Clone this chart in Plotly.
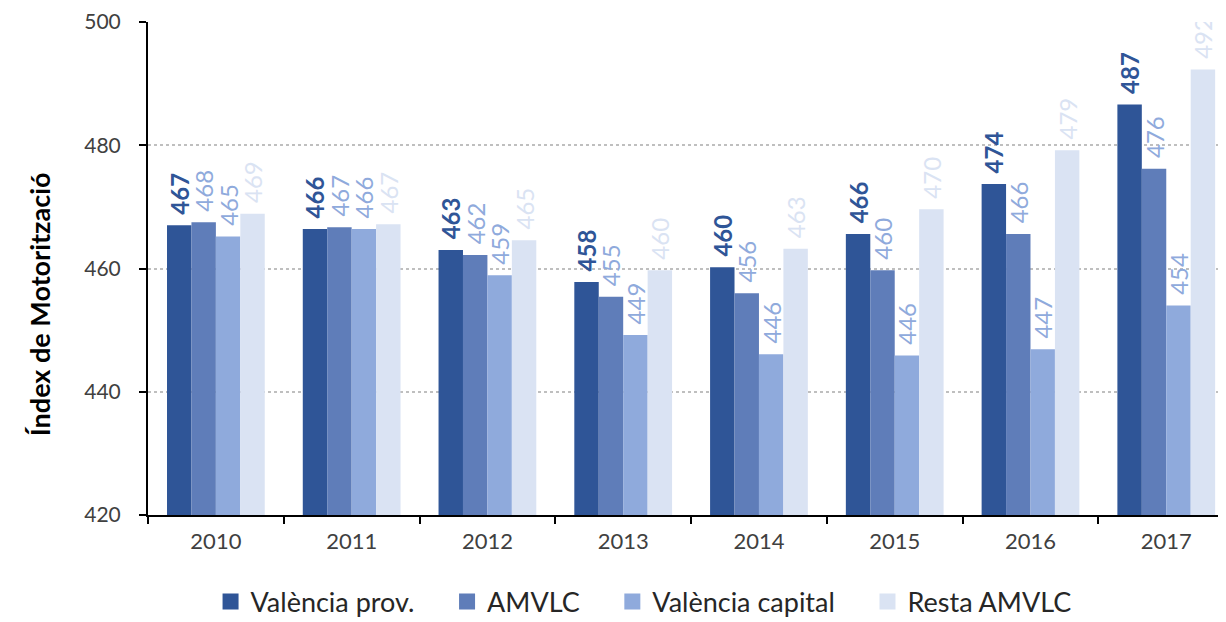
import plotly.graph_objects as go

years = ["2010", "2011", "2012", "2013", "2014", "2015", "2016", "2017"]
valencia_prov = [467.0, 466.4, 463.0, 457.8, 460.2, 465.6, 473.7, 486.6]
amvlc = [467.5, 466.7, 462.2, 455.4, 456.0, 459.7, 465.6, 476.2]
valencia_capital = [465.2, 466.4, 458.9, 449.2, 446.1, 445.9, 446.9, 454.0]
resta_amvlc = [468.9, 467.2, 464.6, 459.7, 463.2, 469.6, 479.2, 492.3]
series_names = ["València prov.", "AMVLC", "València capital", "Resta AMVLC"]
y_ticks = [420, 440, 460, 480, 500]

bar_colors = ["#2F5597", "#5F7DB9", "#8FAADC", "#DAE3F3"]
label_colors = ["#2F5597", "#8FAADC", "#8FAADC", "#DAE3F3"]
label_bold = [True, False, False, False]
legend_pad = ["\u00a0" * 4, "\u00a0" * 4, "\u00a0" * 4, ""]

FONT = "Lato"
fig = go.Figure()
for name, vals, bc, lc, bold, pad in zip(series_names,
                                         [valencia_prov, amvlc, valencia_capital, resta_amvlc],
                                         bar_colors, label_colors, label_bold, legend_pad):
    txt = ["\u00a0\u200a" + (f"<b>{round(v)}</b>" if bold else f"{round(v)}") for v in vals]
    fig.add_trace(go.Bar(
        x=years, y=vals, name=name, marker_color=bc, marker_line_width=0,
        text=txt, textposition="outside", textangle=-90, constraintext="none",
        textfont=dict(family=FONT, size=24, color=lc), cliponaxis=True,
        hoverinfo="skip", showlegend=False,
    ))
    # legend entry (square swatch)
    fig.add_trace(go.Scatter(
        x=[None], y=[None], mode="markers", name=name + pad,
        marker=dict(symbol="square", size=18, color=bc), hoverinfo="skip",
    ))

fig.update_layout(
    width=1218, height=614,
    margin=dict(l=140, r=0, t=14, b=107, autoexpand=False),
    paper_bgcolor="white", plot_bgcolor="white",
    barmode="group", bargap=0.28, bargroupgap=0,
    font=dict(family=FONT, color="#404040", size=20),
    showlegend=True,
    legend=dict(orientation="h", x=0.4597, xanchor="center", y=-0.1765, yanchor="middle",
                font=dict(family=FONT, size=27, color="#262626"),
                itemsizing="trace", traceorder="normal", tracegroupgap=0),
    xaxis=dict(range=[-0.5, 7.44], showline=True, linecolor="black", linewidth=2,
               ticks="outside", tickson="boundaries", ticklen=7, tickcolor="black", tickwidth=2,
               tickfont=dict(family=FONT, size=22, color="#404040"), showgrid=False,
               ticklabelstandoff=6),
    yaxis=dict(range=[420, 500], tickvals=y_ticks, showline=True, linecolor="black", linewidth=2,
               ticks="outside", ticklen=7, tickcolor="black", tickwidth=2,
               tickfont=dict(family=FONT, size=21, color="#404040"), ticklabeloverflow="allow",
               showgrid=True, gridcolor="#BFBFBF", griddash="dot", gridwidth=1.5,
               zeroline=False, ticklabelstandoff=14),
    annotations=[dict(text="<b>Índex de Motorització</b>", xref="paper", yref="paper",
                      x=-0.1,  y=0.428, xanchor="center", yanchor="middle", textangle=-90,
                      showarrow=False, font=dict(family=FONT, size=27, color="black"))],
)

fig.write_html("out.html")
